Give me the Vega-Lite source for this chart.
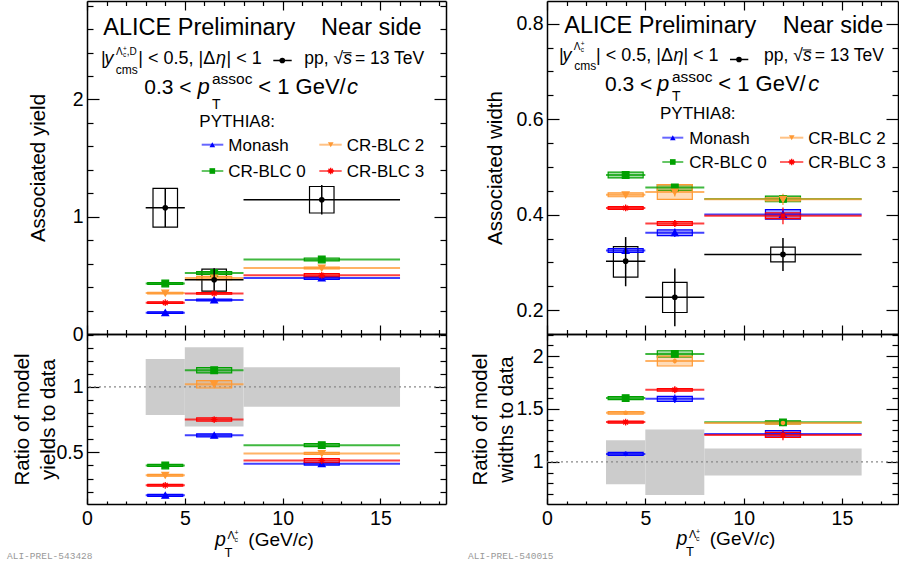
{
"$schema": "https://vega.github.io/schema/vega-lite/v6.json",
"background": "white",
"padding": {"left": 7, "top": 0, "right": 0, "bottom": 0},
"columns": 2,
"spacing": {"row": 0, "column": 101},
"bounds": "flush",
"resolve": {"scale": {"color": "independent", "stroke": "independent", "shape": "independent"}},
"datasets": {
"yieldRows": [
{"kind":"data","x":4,"xlo":3,"xhi":5,"y":1.077,"elo":0.912,"ehi":1.242,"slo":0.912,"shi":1.242},
{"kind":"data","x":6.5,"xlo":5,"xhi":8,"y":0.463,"elo":0.37,"ehi":0.56,"slo":0.366,"shi":0.553},
{"kind":"data","x":12,"xlo":8,"xhi":16,"y":1.145,"elo":1.02,"ehi":1.27,"slo":1.032,"shi":1.258},
{"kind":"model","model":"Monash","x":4,"xlo":3,"xhi":5,"y":0.182,"elo":0.174,"ehi":0.19,"slo":0.175,"shi":0.189},
{"kind":"model","model":"CR-BLC 0","x":4,"xlo":3,"xhi":5,"y":0.431,"elo":0.422,"ehi":0.44,"slo":0.423,"shi":0.439},
{"kind":"model","model":"CR-BLC 2","x":4,"xlo":3,"xhi":5,"y":0.349,"elo":0.341,"ehi":0.357,"slo":0.342,"shi":0.356},
{"kind":"model","model":"CR-BLC 3","x":4,"xlo":3,"xhi":5,"y":0.267,"elo":0.259,"ehi":0.275,"slo":0.26,"shi":0.274},
{"kind":"model","model":"Monash","x":6.5,"xlo":5,"xhi":8,"y":0.29,"elo":0.28,"ehi":0.3,"slo":0.282,"shi":0.298},
{"kind":"model","model":"CR-BLC 0","x":6.5,"xlo":5,"xhi":8,"y":0.52,"elo":0.508,"ehi":0.532,"slo":0.508,"shi":0.532},
{"kind":"model","model":"CR-BLC 2","x":6.5,"xlo":5,"xhi":8,"y":0.477,"elo":0.465,"ehi":0.489,"slo":0.463,"shi":0.491},
{"kind":"model","model":"CR-BLC 3","x":6.5,"xlo":5,"xhi":8,"y":0.346,"elo":0.336,"ehi":0.356,"slo":0.339,"shi":0.353},
{"kind":"model","model":"Monash","x":12,"xlo":8,"xhi":16,"y":0.477,"elo":0.465,"ehi":0.489,"slo":0.465,"shi":0.489},
{"kind":"model","model":"CR-BLC 0","x":12,"xlo":8,"xhi":16,"y":0.636,"elo":0.624,"ehi":0.648,"slo":0.624,"shi":0.648},
{"kind":"model","model":"CR-BLC 2","x":12,"xlo":8,"xhi":16,"y":0.563,"elo":0.553,"ehi":0.573,"slo":0.555,"shi":0.571},
{"kind":"model","model":"CR-BLC 3","x":12,"xlo":8,"xhi":16,"y":0.5,"elo":0.488,"ehi":0.512,"slo":0.485,"shi":0.515}
],
"widthRows": [
{"kind":"data","x":4,"xlo":3,"xhi":5,"y":0.3026,"elo":0.25,"ehi":0.353,"slo":0.269,"shi":0.333},
{"kind":"data","x":6.5,"xlo":5,"xhi":8,"y":0.227,"elo":0.166,"ehi":0.287,"slo":0.195,"shi":0.258},
{"kind":"data","x":12,"xlo":8,"xhi":16,"y":0.3167,"elo":0.282,"ehi":0.351,"slo":0.301,"shi":0.332},
{"kind":"model","model":"Monash","x":4,"xlo":3,"xhi":5,"y":0.325,"elo":0.319,"ehi":0.331,"slo":0.321,"shi":0.329},
{"kind":"model","model":"CR-BLC 0","x":4,"xlo":3,"xhi":5,"y":0.483,"elo":0.479,"ehi":0.487,"slo":0.477,"shi":0.489},
{"kind":"model","model":"CR-BLC 2","x":4,"xlo":3,"xhi":5,"y":0.4415,"elo":0.437,"ehi":0.446,"slo":0.4375,"shi":0.4455},
{"kind":"model","model":"CR-BLC 3","x":4,"xlo":3,"xhi":5,"y":0.414,"elo":0.408,"ehi":0.42,"slo":0.411,"shi":0.417},
{"kind":"model","model":"Monash","x":6.5,"xlo":5,"xhi":8,"y":0.362,"elo":0.353,"ehi":0.371,"slo":0.356,"shi":0.368},
{"kind":"model","model":"CR-BLC 0","x":6.5,"xlo":5,"xhi":8,"y":0.457,"elo":0.452,"ehi":0.462,"slo":0.451,"shi":0.463},
{"kind":"model","model":"CR-BLC 2","x":6.5,"xlo":5,"xhi":8,"y":0.4475,"elo":0.438,"ehi":0.457,"slo":0.432,"shi":0.463},
{"kind":"model","model":"CR-BLC 3","x":6.5,"xlo":5,"xhi":8,"y":0.3815,"elo":0.374,"ehi":0.389,"slo":0.3775,"shi":0.3855},
{"kind":"model","model":"Monash","x":12,"xlo":8,"xhi":16,"y":0.4004,"elo":0.39,"ehi":0.41,"slo":0.3904,"shi":0.4104},
{"kind":"model","model":"CR-BLC 0","x":12,"xlo":8,"xhi":16,"y":0.433,"elo":0.428,"ehi":0.438,"slo":0.427,"shi":0.439},
{"kind":"model","model":"CR-BLC 2","x":12,"xlo":8,"xhi":16,"y":0.432,"elo":0.42,"ehi":0.444,"slo":0.429,"shi":0.435},
{"kind":"model","model":"CR-BLC 3","x":12,"xlo":8,"xhi":16,"y":0.3975,"elo":0.38,"ehi":0.415,"slo":0.3915,"shi":0.4035}
],
"ryieldRows": [
{"kind":"band","xlo":3,"xhi":5,"slo":0.786,"shi":1.214},
{"kind":"band","xlo":5,"xhi":8,"slo":0.697,"shi":1.304},
{"kind":"band","xlo":8,"xhi":16,"slo":0.848,"shi":1.151},
{"kind":"model","model":"Monash","x":4,"xlo":3,"xhi":5,"y":0.171,"elo":0.163,"ehi":0.179,"slo":0.164,"shi":0.178},
{"kind":"model","model":"CR-BLC 0","x":4,"xlo":3,"xhi":5,"y":0.4,"elo":0.391,"ehi":0.409,"slo":0.392,"shi":0.408},
{"kind":"model","model":"CR-BLC 2","x":4,"xlo":3,"xhi":5,"y":0.325,"elo":0.317,"ehi":0.333,"slo":0.318,"shi":0.332},
{"kind":"model","model":"CR-BLC 3","x":4,"xlo":3,"xhi":5,"y":0.248,"elo":0.24,"ehi":0.256,"slo":0.241,"shi":0.255},
{"kind":"model","model":"Monash","x":6.5,"xlo":5,"xhi":8,"y":0.63,"elo":0.617,"ehi":0.643,"slo":0.618,"shi":0.642},
{"kind":"model","model":"CR-BLC 0","x":6.5,"xlo":5,"xhi":8,"y":1.128,"elo":1.11,"ehi":1.146,"slo":1.108,"shi":1.148},
{"kind":"model","model":"CR-BLC 2","x":6.5,"xlo":5,"xhi":8,"y":1.02,"elo":1.0,"ehi":1.04,"slo":0.992,"shi":1.048},
{"kind":"model","model":"CR-BLC 3","x":6.5,"xlo":5,"xhi":8,"y":0.751,"elo":0.738,"ehi":0.764,"slo":0.739,"shi":0.763},
{"kind":"model","model":"Monash","x":12,"xlo":8,"xhi":16,"y":0.413,"elo":0.402,"ehi":0.424,"slo":0.403,"shi":0.423},
{"kind":"model","model":"CR-BLC 0","x":12,"xlo":8,"xhi":16,"y":0.555,"elo":0.543,"ehi":0.567,"slo":0.543,"shi":0.567},
{"kind":"model","model":"CR-BLC 2","x":12,"xlo":8,"xhi":16,"y":0.492,"elo":0.482,"ehi":0.502,"slo":0.484,"shi":0.5},
{"kind":"model","model":"CR-BLC 3","x":12,"xlo":8,"xhi":16,"y":0.437,"elo":0.424,"ehi":0.45,"slo":0.422,"shi":0.452}
],
"rwidthRows": [
{"kind":"band","xlo":3,"xhi":5,"slo":0.789,"shi":1.205},
{"kind":"band","xlo":5,"xhi":8,"slo":0.688,"shi":1.306},
{"kind":"band","xlo":8,"xhi":16,"slo":0.871,"shi":1.127},
{"kind":"model","model":"Monash","x":4,"xlo":3,"xhi":5,"y":1.076,"elo":1.055,"ehi":1.097,"slo":1.061,"shi":1.091},
{"kind":"model","model":"CR-BLC 0","x":4,"xlo":3,"xhi":5,"y":1.603,"elo":1.588,"ehi":1.618,"slo":1.588,"shi":1.618},
{"kind":"model","model":"CR-BLC 2","x":4,"xlo":3,"xhi":5,"y":1.464,"elo":1.452,"ehi":1.476,"slo":1.452,"shi":1.476},
{"kind":"model","model":"CR-BLC 3","x":4,"xlo":3,"xhi":5,"y":1.376,"elo":1.355,"ehi":1.397,"slo":1.366,"shi":1.386},
{"kind":"model","model":"Monash","x":6.5,"xlo":5,"xhi":8,"y":1.596,"elo":1.556,"ehi":1.636,"slo":1.572,"shi":1.62},
{"kind":"model","model":"CR-BLC 0","x":6.5,"xlo":5,"xhi":8,"y":2.02,"elo":2.0,"ehi":2.04,"slo":1.99,"shi":2.05},
{"kind":"model","model":"CR-BLC 2","x":6.5,"xlo":5,"xhi":8,"y":1.953,"elo":1.93,"ehi":1.976,"slo":1.906,"shi":2.0},
{"kind":"model","model":"CR-BLC 3","x":6.5,"xlo":5,"xhi":8,"y":1.681,"elo":1.65,"ehi":1.712,"slo":1.669,"shi":1.693},
{"kind":"model","model":"Monash","x":12,"xlo":8,"xhi":16,"y":1.265,"elo":1.24,"ehi":1.29,"slo":1.235,"shi":1.295},
{"kind":"model","model":"CR-BLC 0","x":12,"xlo":8,"xhi":16,"y":1.374,"elo":1.359,"ehi":1.389,"slo":1.359,"shi":1.389},
{"kind":"model","model":"CR-BLC 2","x":12,"xlo":8,"xhi":16,"y":1.368,"elo":1.338,"ehi":1.398,"slo":1.356,"shi":1.38},
{"kind":"model","model":"CR-BLC 3","x":12,"xlo":8,"xhi":16,"y":1.255,"elo":1.205,"ehi":1.305,"slo":1.231,"shi":1.279}
]
},
"concat": [
{
"width": 359, "height": 333,
"data": {"name": "yieldRows"},
"resolve": {"axis": {"x": "independent", "y": "independent"}},
"layer": [
{"transform": [{"filter": "datum.kind === 'data'"}],
 "mark": {"type": "point", "opacity": 0},
 "encoding": {
  "x": {"field": "x", "type": "quantitative", "axis": {"orient": "bottom", "labels": false, "title": null, "domain": false, "values": [1,2,3,4,6,7,8,9,11,12,13,14,16,17,18], "tickSize": -4.5}},
  "y": {"field": "y", "type": "quantitative", "axis": {"orient": "left", "labels": false, "title": null, "domain": false, "values": [0.2,0.4,0.6,0.8,1.2,1.4,1.6,1.8,2.2,2.4,2.6,2.8], "tickSize": -6}}
 }},
{"transform": [{"filter": "datum.kind === 'data'"}],
 "mark": {"type": "point", "opacity": 0},
 "encoding": {
  "x": {"field": "x", "type": "quantitative", "axis": {"orient": "top", "labels": false, "title": null, "values": [0,5,10,15], "tickSize": -9}},
  "y": {"field": "y", "type": "quantitative", "axis": {"orient": "right", "labels": false, "title": null, "values": [0,1,2], "tickSize": -12}}
 }},
{"transform": [{"filter": "datum.kind === 'data'"}],
 "mark": {"type": "point", "opacity": 0},
 "encoding": {
  "x": {"field": "x", "type": "quantitative", "axis": {"orient": "top", "labels": false, "title": null, "domain": false, "values": [1,2,3,4,6,7,8,9,11,12,13,14,16,17,18], "tickSize": -4.5}},
  "y": {"field": "y", "type": "quantitative", "axis": {"orient": "right", "labels": false, "title": null, "domain": false, "values": [0.2,0.4,0.6,0.8,1.2,1.4,1.6,1.8,2.2,2.4,2.6,2.8], "tickSize": -6}}
 }},
{"layer": [
{"transform": [{"filter": "datum.kind === 'data'"}],
 "mark": {"type": "bar", "width": 24.5, "fillOpacity": 0, "stroke": "black", "strokeWidth": 1.2},
 "encoding": {
  "x": {"field": "x", "type": "quantitative", "scale": {"domain": [0, 18.35], "nice": false, "zero": false, "padding": 0}, "axis": {"orient": "bottom", "labels": false, "title": null, "values": [0,5,10,15], "tickSize": -9}},
  "y": {"field": "slo", "type": "quantitative", "scale": {"domain": [0, 2.84], "nice": false, "zero": false, "padding": 0}, "axis": {"orient": "left", "title": "Associated yield", "titlePadding": 24, "labelPadding": 16, "values": [0,1,2], "labelExpr": "format(datum.value, '~g')", "tickSize": -12}},
  "y2": {"field": "shi"}
 }},
{"transform": [{"filter": "datum.kind === 'model'"}],
 "mark": {"type": "bar", "width": 35, "fillOpacity": 0.35, "strokeWidth": 1.2},
 "encoding": {
  "x": {"field": "x", "type": "quantitative"},
  "y": {"field": "slo", "type": "quantitative"},
  "y2": {"field": "shi"},
  "color": {"field": "model", "type": "nominal", "scale": {"domain": ["Monash","CR-BLC 2","CR-BLC 0","CR-BLC 3"], "range": ["#0000ff","#ff9933","#00a000","#ff0000"]}, "legend": null},
  "stroke": {"field": "model", "type": "nominal", "scale": {"domain": ["Monash","CR-BLC 2","CR-BLC 0","CR-BLC 3"], "range": ["#0000ff","#ff9933","#00a000","#ff0000"]}, "legend": null}
 }},
{"transform": [{"filter": "datum.kind === 'model'"}],
 "mark": {"type": "rule", "strokeWidth": 2, "opacity": 0.75},
 "encoding": {"x": {"field": "xlo", "type": "quantitative"}, "x2": {"field": "xhi"}, "y": {"field": "y", "type": "quantitative"}, "color": {"field": "model", "type": "nominal", "legend": null}}},
{"transform": [{"filter": "datum.kind === 'model'"}],
 "mark": {"type": "rule", "strokeWidth": 1.2},
 "encoding": {"x": {"field": "x", "type": "quantitative"}, "y": {"field": "elo", "type": "quantitative"}, "y2": {"field": "ehi"}, "color": {"field": "model", "type": "nominal", "legend": null}}},
{"transform": [{"filter": "datum.kind === 'model'"}],
 "mark": {"type": "point", "filled": true, "size": 45, "strokeWidth": 1.2, "opacity": 1},
 "encoding": {"x": {"field": "x", "type": "quantitative"}, "y": {"field": "y", "type": "quantitative"}, "color": {"field": "model", "type": "nominal", "legend": null}, "stroke": {"field": "model", "type": "nominal", "legend": null},
  "shape": {"field": "model", "type": "nominal", "legend": null, "scale": {"domain": ["Monash","CR-BLC 2","CR-BLC 0","CR-BLC 3"], "range": ["triangle-up","triangle-down","square","M-1,0L1,0M0,-1L0,1M-0.7,-0.7L0.7,0.7M-0.7,0.7L0.7,-0.7"]}}}},
{"transform": [{"filter": "datum.kind === 'data'"}],
 "mark": {"type": "rule", "color": "black", "strokeWidth": 1.5},
 "encoding": {"x": {"field": "xlo", "type": "quantitative"}, "x2": {"field": "xhi"}, "y": {"field": "y", "type": "quantitative"}}},
{"transform": [{"filter": "datum.kind === 'data'"}],
 "mark": {"type": "rule", "color": "black", "strokeWidth": 1.5},
 "encoding": {"x": {"field": "x", "type": "quantitative"}, "y": {"field": "elo", "type": "quantitative"}, "y2": {"field": "ehi"}}},
{"transform": [{"filter": "datum.kind === 'data'"}],
 "mark": {"type": "point", "filled": true, "size": 32, "color": "black", "opacity": 1},
 "encoding": {"x": {"field": "x", "type": "quantitative"}, "y": {"field": "y", "type": "quantitative"}}},
{"data": {"values": [{}]}, "mark": {"type": "text", "text": "ALICE Preliminary", "fontSize": 23.5}, "encoding": {"x": {"datum": 0.833}, "y": {"datum": 2.55}}},
{"data": {"values": [{}]}, "mark": {"type": "text", "text": "Near side", "fontSize": 23.5, "align": "right"}, "encoding": {"x": {"datum": 17.107}, "y": {"datum": 2.55}}},
{"data": {"values": [{}]}, "mark": {"type": "text", "text": "|", "fontSize": 18}, "encoding": {"x": {"datum": 0.7156}, "y": {"datum": 2.3002}}},
{"data": {"values": [{}]}, "mark": {"type": "text", "text": "y", "fontSize": 18, "fontStyle": "italic"}, "encoding": {"x": {"datum": 0.8945}, "y": {"datum": 2.3002}}},
{"data": {"values": [{}]}, "mark": {"type": "text", "text": "Λ", "fontSize": 10}, "encoding": {"x": {"datum": 1.48}, "y": {"datum": 2.3795}}},
{"data": {"values": [{}]}, "mark": {"type": "text", "text": "c", "fontSize": 6.5}, "encoding": {"x": {"datum": 1.84}, "y": {"datum": 2.3582}}},
{"data": {"values": [{}]}, "mark": {"type": "text", "text": "+", "fontSize": 6.5}, "encoding": {"x": {"datum": 1.84}, "y": {"datum": 2.4136}}},
{"data": {"values": [{}]}, "mark": {"type": "text", "text": ",D", "fontSize": 10}, "encoding": {"x": {"datum": 2.03}, "y": {"datum": 2.3795}}},
{"data": {"values": [{}]}, "mark": {"type": "text", "text": "cms", "fontSize": 12}, "encoding": {"x": {"datum": 1.467}, "y": {"datum": 2.22}}},
{"data": {"values": [{}]}, "mark": {"type": "text", "text": "| < 0.5, |Δ", "fontSize": 18}, "encoding": {"x": {"datum": 2.622}, "y": {"datum": 2.3002}}},
{"data": {"values": [{}]}, "mark": {"type": "text", "text": "η", "fontSize": 18, "fontStyle": "italic"}, "encoding": {"x": {"datum": 6.594}, "y": {"datum": 2.3002}}},
{"data": {"values": [{}]}, "mark": {"type": "text", "text": "| < 1", "fontSize": 18}, "encoding": {"x": {"datum": 7.13}, "y": {"datum": 2.3002}}},
{"data": {"values": [{}]}, "mark": {"type": "rule", "color": "black", "strokeWidth": 1.5}, "encoding": {"x": {"datum": 9.522}, "x2": {"datum": 10.463}, "y": {"datum": 2.3326}}},
{"data": {"values": [{}]}, "mark": {"type": "point", "filled": true, "size": 32, "color": "black", "opacity": 1}, "encoding": {"x": {"datum": 9.982}, "y": {"datum": 2.3326}}},
{"data": {"values": [{}]}, "mark": {"type": "text", "text": "pp, √", "fontSize": 17.5}, "encoding": {"x": {"datum": 11.107}, "y": {"datum": 2.3002}}},
{"data": {"values": [{}]}, "mark": {"type": "text", "text": "s", "fontSize": 17.5, "fontStyle": "italic"}, "encoding": {"x": {"datum": 13.1}, "y": {"datum": 2.3002}}},
{"data": {"values": [{}]}, "mark": {"type": "text", "text": "= 13 TeV", "fontSize": 17.5}, "encoding": {"x": {"datum": 13.699}, "y": {"datum": 2.3002}}},
{"data": {"values": [{}]}, "mark": {"type": "rule", "color": "black", "strokeWidth": 1}, "encoding": {"x": {"datum": 13.08}, "x2": {"datum": 13.52}, "y": {"datum": 2.399}}},
{"data": {"values": [{}]}, "mark": {"type": "text", "text": "0.3 <", "fontSize": 21}, "encoding": {"x": {"datum": 2.929}, "y": {"datum": 2.0443}}},
{"data": {"values": [{}]}, "mark": {"type": "text", "text": "p", "fontSize": 22, "fontStyle": "italic"}, "encoding": {"x": {"datum": 5.648}, "y": {"datum": 2.0443}}},
{"data": {"values": [{}]}, "mark": {"type": "text", "text": "T", "fontSize": 14}, "encoding": {"x": {"datum": 6.389}, "y": {"datum": 1.919}}},
{"data": {"values": [{}]}, "mark": {"type": "text", "text": "assoc", "fontSize": 15.5}, "encoding": {"x": {"datum": 6.389}, "y": {"datum": 2.1296}}},
{"data": {"values": [{}]}, "mark": {"type": "text", "text": "< 1 GeV/", "fontSize": 22}, "encoding": {"x": {"datum": 8.755}, "y": {"datum": 2.0443}}},
{"data": {"values": [{}]}, "mark": {"type": "text", "text": "c", "fontSize": 22, "fontStyle": "italic"}, "encoding": {"x": {"datum": 13.289}, "y": {"datum": 2.0443}}},
{"data": {"values": [{}]}, "mark": {"type": "text", "text": "PYTHIA8:", "fontSize": 17}, "encoding": {"x": {"datum": 5.74}, "y": {"datum": 1.7612}}},
{"data": {"values": [{}]}, "mark": {"type": "rule", "color": "#0000ff", "strokeWidth": 2, "opacity": 0.6}, "encoding": {"x": {"datum": 5.863}, "x2": {"datum": 6.967}, "y": {"datum": 1.6145}}},
{"data": {"values": [{}]}, "mark": {"type": "rule", "color": "#ff9933", "strokeWidth": 2, "opacity": 0.6}, "encoding": {"x": {"datum": 11.874}, "x2": {"datum": 13.019}, "y": {"datum": 1.6145}}},
{"data": {"values": [{}]}, "mark": {"type": "rule", "color": "#00a000", "strokeWidth": 2, "opacity": 0.6}, "encoding": {"x": {"datum": 5.863}, "x2": {"datum": 6.967}, "y": {"datum": 1.3902}}},
{"data": {"values": [{}]}, "mark": {"type": "rule", "color": "#ff0000", "strokeWidth": 2, "opacity": 0.6}, "encoding": {"x": {"datum": 11.874}, "x2": {"datum": 13.019}, "y": {"datum": 1.3902}}},
{"data": {"values": [{}]}, "mark": {"type": "point", "shape": "triangle-up", "filled": true, "size": 32, "color": "#0000ff", "opacity": 1}, "encoding": {"x": {"datum": 6.405}, "y": {"datum": 1.6145}}},
{"data": {"values": [{}]}, "mark": {"type": "point", "shape": "triangle-down", "filled": true, "size": 32, "color": "#ff9933", "opacity": 1}, "encoding": {"x": {"datum": 12.457}, "y": {"datum": 1.6145}}},
{"data": {"values": [{}]}, "mark": {"type": "point", "shape": "square", "filled": true, "size": 32, "color": "#00a000", "opacity": 1}, "encoding": {"x": {"datum": 6.405}, "y": {"datum": 1.3902}}},
{"data": {"values": [{}]}, "mark": {"type": "point", "shape": "M-1,0L1,0M0,-1L0,1M-0.7,-0.7L0.7,0.7M-0.7,0.7L0.7,-0.7", "filled": false, "size": 40, "strokeWidth": 1.3, "color": "#ff0000", "opacity": 1}, "encoding": {"x": {"datum": 12.457}, "y": {"datum": 1.3902}}},
{"data": {"values": [{}]}, "mark": {"type": "text", "text": "Monash", "fontSize": 17}, "encoding": {"x": {"datum": 7.223}, "y": {"datum": 1.5608}}},
{"data": {"values": [{}]}, "mark": {"type": "text", "text": "CR-BLC 2", "fontSize": 17}, "encoding": {"x": {"datum": 13.274}, "y": {"datum": 1.5608}}},
{"data": {"values": [{}]}, "mark": {"type": "text", "text": "CR-BLC 0", "fontSize": 17}, "encoding": {"x": {"datum": 7.223}, "y": {"datum": 1.339}}},
{"data": {"values": [{}]}, "mark": {"type": "text", "text": "CR-BLC 3", "fontSize": 17}, "encoding": {"x": {"datum": 13.274}, "y": {"datum": 1.339}}}
]}
]
},
{
"width": 351, "height": 333,
"data": {"name": "widthRows"},
"resolve": {"axis": {"x": "independent", "y": "independent"}},
"layer": [
{"transform": [{"filter": "datum.kind === 'data'"}],
 "mark": {"type": "point", "opacity": 0},
 "encoding": {
  "x": {"field": "x", "type": "quantitative", "axis": {"orient": "bottom", "labels": false, "title": null, "domain": false, "values": [1,2,3,4,6,7,8,9,11,12,13,14,16,17], "tickSize": -4.5}},
  "y": {"field": "y", "type": "quantitative", "axis": {"orient": "left", "labels": false, "title": null, "domain": false, "values": [0.15,0.25,0.3,0.35,0.45,0.5,0.55,0.65,0.7,0.75], "tickSize": -6}}
 }},
{"transform": [{"filter": "datum.kind === 'data'"}],
 "mark": {"type": "point", "opacity": 0},
 "encoding": {
  "x": {"field": "x", "type": "quantitative", "axis": {"orient": "top", "labels": false, "title": null, "values": [0,5,10,15], "tickSize": -9}},
  "y": {"field": "y", "type": "quantitative", "axis": {"orient": "right", "labels": false, "title": null, "values": [0.2,0.4,0.6,0.8], "tickSize": -12}}
 }},
{"transform": [{"filter": "datum.kind === 'data'"}],
 "mark": {"type": "point", "opacity": 0},
 "encoding": {
  "x": {"field": "x", "type": "quantitative", "axis": {"orient": "top", "labels": false, "title": null, "domain": false, "values": [1,2,3,4,6,7,8,9,11,12,13,14,16,17], "tickSize": -4.5}},
  "y": {"field": "y", "type": "quantitative", "axis": {"orient": "right", "labels": false, "title": null, "domain": false, "values": [0.15,0.25,0.3,0.35,0.45,0.5,0.55,0.65,0.7,0.75], "tickSize": -6}}
 }},
{"layer": [
{"transform": [{"filter": "datum.kind === 'data'"}],
 "mark": {"type": "bar", "width": 24.5, "fillOpacity": 0, "stroke": "black", "strokeWidth": 1.2},
 "encoding": {
  "x": {"field": "x", "type": "quantitative", "scale": {"domain": [0, 17.85], "nice": false, "zero": false, "padding": 0}, "axis": {"orient": "bottom", "labels": false, "title": null, "values": [0,5,10,15], "tickSize": -9}},
  "y": {"field": "slo", "type": "quantitative", "scale": {"domain": [0.15, 0.8475], "nice": false, "zero": false, "padding": 0}, "axis": {"orient": "left", "title": "Associated width", "titlePadding": 10, "labelPadding": 16, "values": [0.2,0.4,0.6,0.8], "labelExpr": "format(datum.value, '.1f')", "tickSize": -12}},
  "y2": {"field": "shi"}
 }},
{"transform": [{"filter": "datum.kind === 'model'"}],
 "mark": {"type": "bar", "width": 35, "fillOpacity": 0.35, "strokeWidth": 1.2},
 "encoding": {
  "x": {"field": "x", "type": "quantitative"},
  "y": {"field": "slo", "type": "quantitative"},
  "y2": {"field": "shi"},
  "color": {"field": "model", "type": "nominal", "scale": {"domain": ["Monash","CR-BLC 2","CR-BLC 0","CR-BLC 3"], "range": ["#0000ff","#ff9933","#00a000","#ff0000"]}, "legend": null},
  "stroke": {"field": "model", "type": "nominal", "scale": {"domain": ["Monash","CR-BLC 2","CR-BLC 0","CR-BLC 3"], "range": ["#0000ff","#ff9933","#00a000","#ff0000"]}, "legend": null}
 }},
{"transform": [{"filter": "datum.kind === 'model'"}],
 "mark": {"type": "rule", "strokeWidth": 2, "opacity": 0.75},
 "encoding": {"x": {"field": "xlo", "type": "quantitative"}, "x2": {"field": "xhi"}, "y": {"field": "y", "type": "quantitative"}, "color": {"field": "model", "type": "nominal", "legend": null}}},
{"transform": [{"filter": "datum.kind === 'model'"}],
 "mark": {"type": "rule", "strokeWidth": 1.2},
 "encoding": {"x": {"field": "x", "type": "quantitative"}, "y": {"field": "elo", "type": "quantitative"}, "y2": {"field": "ehi"}, "color": {"field": "model", "type": "nominal", "legend": null}}},
{"transform": [{"filter": "datum.kind === 'model'"}],
 "mark": {"type": "point", "filled": true, "size": 45, "strokeWidth": 1.2, "opacity": 1},
 "encoding": {"x": {"field": "x", "type": "quantitative"}, "y": {"field": "y", "type": "quantitative"}, "color": {"field": "model", "type": "nominal", "legend": null}, "stroke": {"field": "model", "type": "nominal", "legend": null},
  "shape": {"field": "model", "type": "nominal", "legend": null, "scale": {"domain": ["Monash","CR-BLC 2","CR-BLC 0","CR-BLC 3"], "range": ["triangle-up","triangle-down","square","M-1,0L1,0M0,-1L0,1M-0.7,-0.7L0.7,0.7M-0.7,0.7L0.7,-0.7"]}}}},
{"transform": [{"filter": "datum.kind === 'data'"}],
 "mark": {"type": "rule", "color": "black", "strokeWidth": 1.5},
 "encoding": {"x": {"field": "xlo", "type": "quantitative"}, "x2": {"field": "xhi"}, "y": {"field": "y", "type": "quantitative"}}},
{"transform": [{"filter": "datum.kind === 'data'"}],
 "mark": {"type": "rule", "color": "black", "strokeWidth": 1.5},
 "encoding": {"x": {"field": "x", "type": "quantitative"}, "y": {"field": "elo", "type": "quantitative"}, "y2": {"field": "ehi"}}},
{"transform": [{"filter": "datum.kind === 'data'"}],
 "mark": {"type": "point", "filled": true, "size": 32, "color": "black", "opacity": 1},
 "encoding": {"x": {"field": "x", "type": "quantitative"}, "y": {"field": "y", "type": "quantitative"}}},
{"data": {"values": [{}]}, "mark": {"type": "text", "text": "ALICE Preliminary", "fontSize": 23.5}, "encoding": {"x": {"datum": 0.88}, "y": {"datum": 0.7805}}},
{"data": {"values": [{}]}, "mark": {"type": "text", "text": "Near side", "fontSize": 23.5, "align": "right"}, "encoding": {"x": {"datum": 17.1}, "y": {"datum": 0.7805}}},
{"data": {"values": [{}]}, "mark": {"type": "text", "text": "|", "fontSize": 18}, "encoding": {"x": {"datum": 0.61}, "y": {"datum": 0.7208}}},
{"data": {"values": [{}]}, "mark": {"type": "text", "text": "y", "fontSize": 18, "fontStyle": "italic"}, "encoding": {"x": {"datum": 0.788}, "y": {"datum": 0.7208}}},
{"data": {"values": [{}]}, "mark": {"type": "text", "text": "Λ", "fontSize": 10}, "encoding": {"x": {"datum": 1.36}, "y": {"datum": 0.7449}}},
{"data": {"values": [{}]}, "mark": {"type": "text", "text": "c", "fontSize": 6.5}, "encoding": {"x": {"datum": 1.71}, "y": {"datum": 0.7397}}},
{"data": {"values": [{}]}, "mark": {"type": "text", "text": "+", "fontSize": 6.5}, "encoding": {"x": {"datum": 1.71}, "y": {"datum": 0.7522}}},
{"data": {"values": [{}]}, "mark": {"type": "text", "text": "cms", "fontSize": 12}, "encoding": {"x": {"datum": 1.388}, "y": {"datum": 0.703}}},
{"data": {"values": [{}]}, "mark": {"type": "text", "text": "| < 0.5, |Δ", "fontSize": 18}, "encoding": {"x": {"datum": 2.492}, "y": {"datum": 0.7208}}},
{"data": {"values": [{}]}, "mark": {"type": "text", "text": "η", "fontSize": 18, "fontStyle": "italic"}, "encoding": {"x": {"datum": 6.433}, "y": {"datum": 0.7208}}},
{"data": {"values": [{}]}, "mark": {"type": "text", "text": "| < 1", "fontSize": 18}, "encoding": {"x": {"datum": 6.937}, "y": {"datum": 0.7208}}},
{"data": {"values": [{}]}, "mark": {"type": "rule", "color": "black", "strokeWidth": 1.5}, "encoding": {"x": {"datum": 9.306}, "x2": {"datum": 10.237}, "y": {"datum": 0.725}}},
{"data": {"values": [{}]}, "mark": {"type": "point", "filled": true, "size": 32, "color": "black", "opacity": 1}, "encoding": {"x": {"datum": 9.764}, "y": {"datum": 0.725}}},
{"data": {"values": [{}]}, "mark": {"type": "text", "text": "pp, √", "fontSize": 17.5}, "encoding": {"x": {"datum": 11.035}, "y": {"datum": 0.7208}}},
{"data": {"values": [{}]}, "mark": {"type": "text", "text": "s", "fontSize": 17.5, "fontStyle": "italic"}, "encoding": {"x": {"datum": 13.019}, "y": {"datum": 0.7208}}},
{"data": {"values": [{}]}, "mark": {"type": "text", "text": "= 13 TeV", "fontSize": 17.5}, "encoding": {"x": {"datum": 13.614}, "y": {"datum": 0.7208}}},
{"data": {"values": [{}]}, "mark": {"type": "rule", "color": "black", "strokeWidth": 1}, "encoding": {"x": {"datum": 13.0}, "x2": {"datum": 13.441}, "y": {"datum": 0.7449}}},
{"data": {"values": [{}]}, "mark": {"type": "text", "text": "0.3 <", "fontSize": 21}, "encoding": {"x": {"datum": 2.95}, "y": {"datum": 0.658}}},
{"data": {"values": [{}]}, "mark": {"type": "text", "text": "p", "fontSize": 22, "fontStyle": "italic"}, "encoding": {"x": {"datum": 5.594}, "y": {"datum": 0.658}}},
{"data": {"values": [{}]}, "mark": {"type": "text", "text": "T", "fontSize": 14}, "encoding": {"x": {"datum": 6.357}, "y": {"datum": 0.638}}},
{"data": {"values": [{}]}, "mark": {"type": "text", "text": "assoc", "fontSize": 15.5}, "encoding": {"x": {"datum": 6.357}, "y": {"datum": 0.6768}}},
{"data": {"values": [{}]}, "mark": {"type": "text", "text": "< 1 GeV/", "fontSize": 22}, "encoding": {"x": {"datum": 8.711}, "y": {"datum": 0.658}}},
{"data": {"values": [{}]}, "mark": {"type": "text", "text": "c", "fontSize": 22, "fontStyle": "italic"}, "encoding": {"x": {"datum": 13.288}, "y": {"datum": 0.658}}},
{"data": {"values": [{}]}, "mark": {"type": "text", "text": "PYTHIA8:", "fontSize": 17}, "encoding": {"x": {"datum": 5.747}, "y": {"datum": 0.601}}},
{"data": {"values": [{}]}, "mark": {"type": "rule", "color": "#0000ff", "strokeWidth": 2, "opacity": 0.6}, "encoding": {"x": {"datum": 5.863}, "x2": {"datum": 6.931}, "y": {"datum": 0.5612}}},
{"data": {"values": [{}]}, "mark": {"type": "rule", "color": "#ff9933", "strokeWidth": 2, "opacity": 0.6}, "encoding": {"x": {"datum": 11.849}, "x2": {"datum": 13.034}, "y": {"datum": 0.5612}}},
{"data": {"values": [{}]}, "mark": {"type": "rule", "color": "#00a000", "strokeWidth": 2, "opacity": 0.6}, "encoding": {"x": {"datum": 5.863}, "x2": {"datum": 6.931}, "y": {"datum": 0.5103}}},
{"data": {"values": [{}]}, "mark": {"type": "rule", "color": "#ff0000", "strokeWidth": 2, "opacity": 0.6}, "encoding": {"x": {"datum": 11.849}, "x2": {"datum": 13.034}, "y": {"datum": 0.5103}}},
{"data": {"values": [{}]}, "mark": {"type": "point", "shape": "triangle-up", "filled": true, "size": 32, "color": "#0000ff", "opacity": 1}, "encoding": {"x": {"datum": 6.397}, "y": {"datum": 0.5612}}},
{"data": {"values": [{}]}, "mark": {"type": "point", "shape": "triangle-down", "filled": true, "size": 32, "color": "#ff9933", "opacity": 1}, "encoding": {"x": {"datum": 12.444}, "y": {"datum": 0.5612}}},
{"data": {"values": [{}]}, "mark": {"type": "point", "shape": "square", "filled": true, "size": 32, "color": "#00a000", "opacity": 1}, "encoding": {"x": {"datum": 6.397}, "y": {"datum": 0.5103}}},
{"data": {"values": [{}]}, "mark": {"type": "point", "shape": "M-1,0L1,0M0,-1L0,1M-0.7,-0.7L0.7,0.7M-0.7,0.7L0.7,-0.7", "filled": false, "size": 40, "strokeWidth": 1.3, "color": "#ff0000", "opacity": 1}, "encoding": {"x": {"datum": 12.444}, "y": {"datum": 0.5103}}},
{"data": {"values": [{}]}, "mark": {"type": "text", "text": "Monash", "fontSize": 17}, "encoding": {"x": {"datum": 7.237}, "y": {"datum": 0.549}}},
{"data": {"values": [{}]}, "mark": {"type": "text", "text": "CR-BLC 2", "fontSize": 17}, "encoding": {"x": {"datum": 13.288}, "y": {"datum": 0.549}}},
{"data": {"values": [{}]}, "mark": {"type": "text", "text": "CR-BLC 0", "fontSize": 17}, "encoding": {"x": {"datum": 7.237}, "y": {"datum": 0.4983}}},
{"data": {"values": [{}]}, "mark": {"type": "text", "text": "CR-BLC 3", "fontSize": 17}, "encoding": {"x": {"datum": 13.288}, "y": {"datum": 0.4983}}}
]}
]
},
{
"width": 359, "height": 170,
"data": {"name": "ryieldRows"},
"resolve": {"axis": {"x": "independent", "y": "independent"}},
"layer": [
{"transform": [{"filter": "datum.kind === 'band'"}],
 "mark": {"type": "point", "opacity": 0},
 "encoding": {
  "x": {"field": "xlo", "type": "quantitative", "axis": {"orient": "bottom", "labels": false, "title": null, "domain": false, "values": [1,2,3,4,6,7,8,9,11,12,13,14,16,17,18], "tickSize": -3}},
  "y": {"field": "slo", "type": "quantitative", "axis": {"orient": "left", "labels": false, "title": null, "domain": false, "values": [0.2,0.3,0.4,0.6,0.7,0.8,0.9,1.1,1.2,1.3,1.4], "tickSize": -6}}
 }},
{"transform": [{"filter": "datum.kind === 'band'"}],
 "mark": {"type": "point", "opacity": 0},
 "encoding": {
  "x": {"field": "xlo", "type": "quantitative", "axis": {"orient": "top", "labels": false, "title": null, "values": [0,5,10,15], "tickSize": -6}},
  "y": {"field": "slo", "type": "quantitative", "axis": {"orient": "right", "labels": false, "title": null, "values": [0.5,1], "tickSize": -12}}
 }},
{"transform": [{"filter": "datum.kind === 'band'"}],
 "mark": {"type": "point", "opacity": 0},
 "encoding": {
  "x": {"field": "xlo", "type": "quantitative", "axis": {"orient": "top", "labels": false, "title": null, "domain": false, "values": [1,2,3,4,6,7,8,9,11,12,13,14,16,17,18], "tickSize": -3}},
  "y": {"field": "slo", "type": "quantitative", "axis": {"orient": "right", "labels": false, "title": null, "domain": false, "values": [0.2,0.3,0.4,0.6,0.7,0.8,0.9,1.1,1.2,1.3,1.4], "tickSize": -6}}
 }},
{"layer": [
{"transform": [{"filter": "datum.kind === 'band'"}],
 "mark": {"type": "rect", "color": "#cccccc"},
 "encoding": {
  "x": {"field": "xlo", "type": "quantitative", "scale": {"domain": [0, 18.35], "nice": false, "zero": false, "padding": 0}, "axis": {"orient": "bottom", "title": null, "labelPadding": 11, "values": [0,5,10,15], "labelExpr": "format(datum.value, '~g')", "tickSize": -6}},
  "x2": {"field": "xhi"},
  "y": {"field": "slo", "type": "quantitative", "scale": {"domain": [0.105, 1.405], "nice": false, "zero": false, "padding": 0}, "axis": {"orient": "left", "title": ["Ratio of model", "yields to data"], "titleLineHeight": 26.7, "titlePadding": -3, "labelPadding": 16, "values": [0.5,1], "labelExpr": "format(datum.value, '~g')", "tickSize": -12}},
  "y2": {"field": "shi"}
 }},
{"data": {"values": [{}]}, "mark": {"type": "rule", "color": "#888888", "strokeDash": [2, 3], "strokeWidth": 1.2}, "encoding": {"y": {"datum": 1}}},
{"transform": [{"filter": "datum.kind === 'model'"}],
 "mark": {"type": "bar", "width": 35, "fillOpacity": 0.35, "strokeWidth": 1.2},
 "encoding": {
  "x": {"field": "x", "type": "quantitative"},
  "y": {"field": "slo", "type": "quantitative"},
  "y2": {"field": "shi"},
  "color": {"field": "model", "type": "nominal", "scale": {"domain": ["Monash","CR-BLC 2","CR-BLC 0","CR-BLC 3"], "range": ["#0000ff","#ff9933","#00a000","#ff0000"]}, "legend": null},
  "stroke": {"field": "model", "type": "nominal", "scale": {"domain": ["Monash","CR-BLC 2","CR-BLC 0","CR-BLC 3"], "range": ["#0000ff","#ff9933","#00a000","#ff0000"]}, "legend": null}
 }},
{"transform": [{"filter": "datum.kind === 'model'"}],
 "mark": {"type": "rule", "strokeWidth": 2, "opacity": 0.75},
 "encoding": {"x": {"field": "xlo", "type": "quantitative"}, "x2": {"field": "xhi"}, "y": {"field": "y", "type": "quantitative"}, "color": {"field": "model", "type": "nominal", "legend": null}}},
{"transform": [{"filter": "datum.kind === 'model'"}],
 "mark": {"type": "rule", "strokeWidth": 1.2},
 "encoding": {"x": {"field": "x", "type": "quantitative"}, "y": {"field": "elo", "type": "quantitative"}, "y2": {"field": "ehi"}, "color": {"field": "model", "type": "nominal", "legend": null}}},
{"transform": [{"filter": "datum.kind === 'model'"}],
 "mark": {"type": "point", "filled": true, "size": 45, "strokeWidth": 1.2, "opacity": 1},
 "encoding": {"x": {"field": "x", "type": "quantitative"}, "y": {"field": "y", "type": "quantitative"}, "color": {"field": "model", "type": "nominal", "legend": null}, "stroke": {"field": "model", "type": "nominal", "legend": null},
  "shape": {"field": "model", "type": "nominal", "legend": null, "scale": {"domain": ["Monash","CR-BLC 2","CR-BLC 0","CR-BLC 3"], "range": ["triangle-up","triangle-down","square","M-1,0L1,0M0,-1L0,1M-0.7,-0.7L0.7,0.7M-0.7,0.7L0.7,-0.7"]}}}},
{"data": {"values": [{}]}, "mark": {"type": "text", "text": "p", "fontSize": 19.5, "fontStyle": "italic"}, "encoding": {"x": {"datum": 6.543}, "y": {"datum": -0.2162}}},
{"data": {"values": [{}]}, "mark": {"type": "text", "text": "T", "fontSize": 13}, "encoding": {"x": {"datum": 7.028}, "y": {"datum": -0.3003}}},
{"data": {"values": [{}]}, "mark": {"type": "text", "text": "Λ", "fontSize": 11}, "encoding": {"x": {"datum": 7.181}, "y": {"datum": -0.1626}}},
{"data": {"values": [{}]}, "mark": {"type": "text", "text": "c", "fontSize": 7}, "encoding": {"x": {"datum": 7.539}, "y": {"datum": -0.1856}}},
{"data": {"values": [{}]}, "mark": {"type": "text", "text": "+", "fontSize": 7}, "encoding": {"x": {"datum": 7.539}, "y": {"datum": -0.1321}}},
{"data": {"values": [{}]}, "mark": {"type": "text", "text": "(GeV/", "fontSize": 19}, "encoding": {"x": {"datum": 8.245}, "y": {"datum": -0.2162}}},
{"data": {"values": [{}]}, "mark": {"type": "text", "text": "c", "fontSize": 19, "fontStyle": "italic"}, "encoding": {"x": {"datum": 10.78}, "y": {"datum": -0.2162}}},
{"data": {"values": [{}]}, "mark": {"type": "text", "text": ")", "fontSize": 19}, "encoding": {"x": {"datum": 11.265}, "y": {"datum": -0.2162}}},
{"data": {"values": [{}]}, "mark": {"type": "text", "text": "ALI-PREL-543428", "fontSize": 9.5, "font": "Liberation Mono", "color": "#999999"}, "encoding": {"x": {"datum": -4.089}, "y": {"datum": -0.3156}}}
]}
]
},
{
"width": 351, "height": 170,
"data": {"name": "rwidthRows"},
"resolve": {"axis": {"x": "independent", "y": "independent"}},
"layer": [
{"transform": [{"filter": "datum.kind === 'band'"}],
 "mark": {"type": "point", "opacity": 0},
 "encoding": {
  "x": {"field": "xlo", "type": "quantitative", "axis": {"orient": "bottom", "labels": false, "title": null, "domain": false, "values": [1,2,3,4,6,7,8,9,11,12,13,14,16,17], "tickSize": -3}},
  "y": {"field": "slo", "type": "quantitative", "axis": {"orient": "left", "labels": false, "title": null, "domain": false, "values": [0.7,0.8,0.9,1.1,1.2,1.3,1.4,1.6,1.7,1.8,1.9,2.1,2.2], "tickSize": -6}}
 }},
{"transform": [{"filter": "datum.kind === 'band'"}],
 "mark": {"type": "point", "opacity": 0},
 "encoding": {
  "x": {"field": "xlo", "type": "quantitative", "axis": {"orient": "top", "labels": false, "title": null, "values": [0,5,10,15], "tickSize": -6}},
  "y": {"field": "slo", "type": "quantitative", "axis": {"orient": "right", "labels": false, "title": null, "values": [1,1.5,2], "tickSize": -12}}
 }},
{"transform": [{"filter": "datum.kind === 'band'"}],
 "mark": {"type": "point", "opacity": 0},
 "encoding": {
  "x": {"field": "xlo", "type": "quantitative", "axis": {"orient": "top", "labels": false, "title": null, "domain": false, "values": [1,2,3,4,6,7,8,9,11,12,13,14,16,17], "tickSize": -3}},
  "y": {"field": "slo", "type": "quantitative", "axis": {"orient": "right", "labels": false, "title": null, "domain": false, "values": [0.7,0.8,0.9,1.1,1.2,1.3,1.4,1.6,1.7,1.8,1.9,2.1,2.2], "tickSize": -6}}
 }},
{"layer": [
{"transform": [{"filter": "datum.kind === 'band'"}],
 "mark": {"type": "rect", "color": "#cccccc"},
 "encoding": {
  "x": {"field": "xlo", "type": "quantitative", "scale": {"domain": [0, 17.85], "nice": false, "zero": false, "padding": 0}, "axis": {"orient": "bottom", "title": null, "labelPadding": 11, "values": [0,5,10,15], "labelExpr": "format(datum.value, '~g')", "tickSize": -6}},
  "x2": {"field": "xhi"},
  "y": {"field": "slo", "type": "quantitative", "scale": {"domain": [0.603, 2.208], "nice": false, "zero": false, "padding": 0}, "axis": {"orient": "left", "title": ["Ratio of model", "widths to data"], "titleLineHeight": 26.7, "titlePadding": -1, "labelPadding": 16, "values": [1,1.5,2], "labelExpr": "format(datum.value, '~g')", "tickSize": -12}},
  "y2": {"field": "shi"}
 }},
{"data": {"values": [{}]}, "mark": {"type": "rule", "color": "#888888", "strokeDash": [2, 3], "strokeWidth": 1.2}, "encoding": {"y": {"datum": 1}}},
{"transform": [{"filter": "datum.kind === 'model'"}],
 "mark": {"type": "bar", "width": 35, "fillOpacity": 0.35, "strokeWidth": 1.2},
 "encoding": {
  "x": {"field": "x", "type": "quantitative"},
  "y": {"field": "slo", "type": "quantitative"},
  "y2": {"field": "shi"},
  "color": {"field": "model", "type": "nominal", "scale": {"domain": ["Monash","CR-BLC 2","CR-BLC 0","CR-BLC 3"], "range": ["#0000ff","#ff9933","#00a000","#ff0000"]}, "legend": null},
  "stroke": {"field": "model", "type": "nominal", "scale": {"domain": ["Monash","CR-BLC 2","CR-BLC 0","CR-BLC 3"], "range": ["#0000ff","#ff9933","#00a000","#ff0000"]}, "legend": null}
 }},
{"transform": [{"filter": "datum.kind === 'model'"}],
 "mark": {"type": "rule", "strokeWidth": 2, "opacity": 0.75},
 "encoding": {"x": {"field": "xlo", "type": "quantitative"}, "x2": {"field": "xhi"}, "y": {"field": "y", "type": "quantitative"}, "color": {"field": "model", "type": "nominal", "legend": null}}},
{"transform": [{"filter": "datum.kind === 'model'"}],
 "mark": {"type": "rule", "strokeWidth": 1.2},
 "encoding": {"x": {"field": "x", "type": "quantitative"}, "y": {"field": "elo", "type": "quantitative"}, "y2": {"field": "ehi"}, "color": {"field": "model", "type": "nominal", "legend": null}}},
{"transform": [{"filter": "datum.kind === 'model'"}],
 "mark": {"type": "point", "filled": true, "size": 45, "strokeWidth": 1.2, "opacity": 1},
 "encoding": {"x": {"field": "x", "type": "quantitative"}, "y": {"field": "y", "type": "quantitative"}, "color": {"field": "model", "type": "nominal", "legend": null}, "stroke": {"field": "model", "type": "nominal", "legend": null},
  "shape": {"field": "model", "type": "nominal", "legend": null, "scale": {"domain": ["Monash","CR-BLC 2","CR-BLC 0","CR-BLC 3"], "range": ["M0.5,0A0.5,0.5 0 1,1 -0.5,0A0.5,0.5 0 1,1 0.5,0Z","M0.5,0A0.5,0.5 0 1,1 -0.5,0A0.5,0.5 0 1,1 0.5,0Z","square","M-1,0L1,0M0,-1L0,1M-0.7,-0.7L0.7,0.7M-0.7,0.7L0.7,-0.7"]}}}},
{"data": {"values": [{}]}, "mark": {"type": "text", "text": "p", "fontSize": 19.5, "fontStyle": "italic"}, "encoding": {"x": {"datum": 6.586}, "y": {"datum": 0.2159}}},
{"data": {"values": [{}]}, "mark": {"type": "text", "text": "T", "fontSize": 13}, "encoding": {"x": {"datum": 7.069}, "y": {"datum": 0.1121}}},
{"data": {"values": [{}]}, "mark": {"type": "text", "text": "Λ", "fontSize": 11}, "encoding": {"x": {"datum": 7.221}, "y": {"datum": 0.282}}},
{"data": {"values": [{}]}, "mark": {"type": "text", "text": "c", "fontSize": 7}, "encoding": {"x": {"datum": 7.577}, "y": {"datum": 0.2537}}},
{"data": {"values": [{}]}, "mark": {"type": "text", "text": "+", "fontSize": 7}, "encoding": {"x": {"datum": 7.577}, "y": {"datum": 0.3198}}},
{"data": {"values": [{}]}, "mark": {"type": "text", "text": "(GeV/", "fontSize": 19}, "encoding": {"x": {"datum": 8.279}, "y": {"datum": 0.2159}}},
{"data": {"values": [{}]}, "mark": {"type": "text", "text": "c", "fontSize": 19, "fontStyle": "italic"}, "encoding": {"x": {"datum": 10.801}, "y": {"datum": 0.2159}}},
{"data": {"values": [{}]}, "mark": {"type": "text", "text": ")", "fontSize": 19}, "encoding": {"x": {"datum": 11.285}, "y": {"datum": 0.2159}}},
{"data": {"values": [{}]}, "mark": {"type": "text", "text": "ALI-PREL-540015", "fontSize": 9.5, "font": "Liberation Mono", "color": "#999999"}, "encoding": {"x": {"datum": -4.017}, "y": {"datum": 0.0837}}}
]}
]
}
],
"config": {
"font": "Liberation Sans",
"view": {"stroke": null},
"scale": {"continuousPadding": 0},
"text": {"font": "Liberation Sans", "align": "left", "baseline": "alphabetic", "color": "black"},
"axis": {"grid": false, "domainColor": "black", "domainWidth": 1.5, "tickColor": "black", "tickWidth": 1.2, "labelFont": "Liberation Sans", "labelFontSize": 19.5, "labelColor": "black", "titleFont": "Liberation Sans", "titleFontSize": 20.5, "titleFontWeight": "normal", "titleColor": "black", "labelFlush": false, "labelOverlap": false, "labelBound": false}
}
}
